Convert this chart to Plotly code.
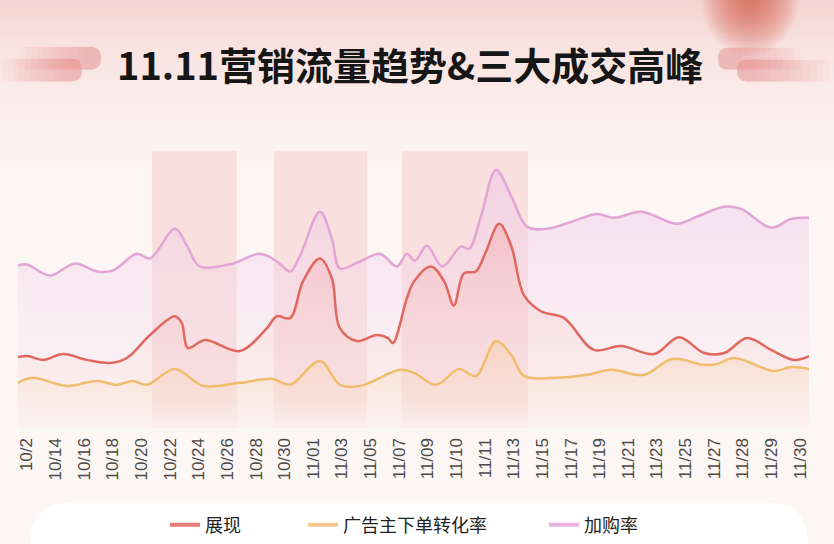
import plotly.graph_objects as go

W, H = 834, 544

tick_labels = ["10/2", "10/14", "10/16", "10/18", "10/20", "10/22", "10/24", "10/26",
               "10/28", "10/30", "11/01", "11/03", "11/05", "11/07", "11/09", "11/10",
               "11/11", "11/13", "11/15", "11/17", "11/19", "11/21", "11/23", "11/25",
               "11/27", "11/28", "11/29", "11/30"]

# positions are in tick-index units (0 = "10/2")
cart_x = [-0.31, 0.00, 0.80, 1.68, 2.45, 3.00, 3.84, 4.30, 5.17, 5.59, 6.04, 7.20, 8.14,
          8.73, 9.19, 9.54, 10.23, 10.65, 10.93, 11.63, 12.33, 12.92, 13.27, 13.55, 13.97,
          14.50, 15.16, 15.44, 15.86, 16.38, 16.91, 17.46, 18.16, 19.11, 19.91, 20.50,
          21.45, 22.70, 23.40, 24.35, 24.94, 25.99, 26.69, 27.31]
cart_y = [58.6, 59.0, 55.0, 59.4, 56.5, 56.8, 62.9, 61.2, 71.9, 65.8, 58.3, 59.4, 62.9,
          60.1, 56.5, 62.2, 78.1, 68.3, 57.6, 60.1, 62.9, 58.3, 62.9, 60.4, 65.8,
          58.3, 65.5, 64.7, 76.6, 93.2, 83.8, 72.7, 71.9, 74.8, 77.3, 75.9,
          78.1, 73.7, 76.3, 79.9, 79.1, 72.3, 75.5, 75.9]

imp_x = [-0.31, 0.03, 0.56, 1.26, 2.10, 2.90, 3.49, 4.30, 5.17, 5.41, 5.62, 6.22, 7.44,
         8.38, 8.73, 9.19, 9.64, 10.23, 10.65, 10.93, 11.53, 12.22, 12.61, 12.78, 13.27,
         13.52, 14.11, 14.57, 14.91, 15.26, 15.68, 16.03, 16.49, 16.91, 17.36, 17.95,
         18.76, 19.80, 20.75, 21.90, 22.77, 23.65, 24.35, 25.15, 25.99, 26.79, 27.31]
imp_y = [25.5, 25.9, 24.5, 26.6, 24.5, 23.4, 25.2, 33.5, 40.3, 37.8, 28.8, 31.7, 27.7,
         36.0, 40.3, 39.6, 52.9, 61.2, 54.0, 36.0, 31.3, 33.5, 32.4, 30.6, 46.8,
         52.9, 58.3, 52.9, 44.2, 55.8, 56.5, 63.7, 73.7, 65.8, 47.8, 42.1,
         39.6, 28.1, 29.5, 26.6, 32.7, 27.0, 27.0, 32.4, 28.1, 24.5, 25.9]

conv_x = [-0.31, 0.21, 1.40, 2.45, 3.14, 3.70, 4.19, 5.17, 6.15, 7.44, 8.59, 9.19, 10.23,
          10.93, 11.63, 13.03, 13.52, 14.29, 15.09, 15.68, 16.38, 16.91, 17.36, 18.41,
          19.56, 20.40, 21.55, 22.53, 23.65, 24.10, 24.69, 26.09, 26.69, 27.31]
conv_y = [16.2, 18.0, 15.1, 16.9, 15.5, 16.9, 15.5, 21.2, 15.1, 16.2, 17.6, 15.5, 24.1,
          15.5, 15.1, 20.9, 19.8, 15.5, 21.2, 18.7, 31.3, 26.3, 18.7, 18.0,
          19.1, 20.9, 19.1, 24.8, 22.7, 23.0, 25.2, 20.5, 21.9, 21.2]

band_start = [4.37, 8.63, 13.10]
band_end = [7.33, 11.88, 17.50]

series_names = ["展现", "广告主下单转化率", "加购率"]
series_colors = ["#e0685e", "#f0bd6e", "#e3a4d6"]
legend_colors = ["#e27c74", "#f3c790", "#e8b3df"]


def px(x):
    return x / W


def py(y):
    return 1 - y / H


def hexmix(c1, c2, t):
    a = [int(c1[i:i + 2], 16) for i in (1, 3, 5)]
    b = [int(c2[i:i + 2], 16) for i in (1, 3, 5)]
    return "rgb(%d,%d,%d)" % tuple(round(a[k] + (b[k] - a[k]) * t) for k in range(3))


def pill(x0, x1, y0, y1, round_left, round_right):
    r = (y1 - y0) / 2
    ym = (y0 + y1) / 2
    p = "M %f,%f " % (px(x0 + r), py(y0))
    p += "L %f,%f " % (px(x1 - r), py(y0))
    if round_right:
        p += "Q %f,%f %f,%f " % (px(x1), py(y0), px(x1), py(ym))
        p += "Q %f,%f %f,%f " % (px(x1), py(y1), px(x1 - r), py(y1))
    else:
        p += "L %f,%f L %f,%f " % (px(x1), py(y0), px(x1), py(y1))
        p += "L %f,%f " % (px(x1 - r), py(y1))
    p += "L %f,%f " % (px(x0 + r), py(y1))
    if round_left:
        p += "Q %f,%f %f,%f " % (px(x0), py(y1), px(x0), py(ym))
        p += "Q %f,%f %f,%f " % (px(x0), py(y0), px(x0 + r), py(y0))
    else:
        p += "L %f,%f L %f,%f " % (px(x0), py(y1), px(x0), py(y0))
    return p + "Z"


shapes = []

# page background gradient
stops = [(0, "#f5d4d2"), (45, "#f8e2e0"), (110, "#fbeeec"), (170, "#fcf5f3"), (544, "#fcf6f4")]
n = 40
for i in range(n):
    y0 = 170 * i / n
    y1 = 170 * (i + 1) / n + 0.5
    ym = (y0 + y1) / 2
    for j in range(len(stops) - 1):
        if stops[j][0] <= ym <= stops[j + 1][0]:
            t = (ym - stops[j][0]) / (stops[j + 1][0] - stops[j][0])
            col = hexmix(stops[j][1], stops[j + 1][1], t)
    shapes.append(dict(type="rect", xref="paper", yref="paper", x0=0, x1=1,
                       y0=py(y1), y1=py(y0), fillcolor=col, line_width=0, layer="below"))

# soft red glow at top right
for k in range(24):
    r = 58 - 2.2 * k
    shapes.append(dict(type="circle", xref="paper", yref="paper",
                       x0=px(750 - r * 0.85), x1=px(750 + r * 0.85), y0=py(-2 + r), y1=py(-2 - r),
                       fillcolor="#df5a50", opacity=0.05, line_width=0, layer="below"))

# decorative pills beside the title
steps = 12
for (x0, x1, y0, y1, rl, rr) in [(20, 101, 47, 70, False, True), (2, 82, 59, 82, False, True)]:
    for k in range(steps):
        shapes.append(dict(type="path", xref="paper", yref="paper",
                           path=pill(x0 + (x1 - x0 - 12) * k / steps, x1, y0, y1, rl, rr),
                           fillcolor="#ee9a9a", opacity=0.055, line_width=0, layer="below"))
for (x0, x1, y0, y1, rl, rr) in [(718, 800, 48, 70, True, False), (737, 830, 60, 82, True, False)]:
    for k in range(steps):
        shapes.append(dict(type="path", xref="paper", yref="paper",
                           path=pill(x0, x1 - (x1 - x0 - 12) * k / steps, y0, y1, rl, rr),
                           fillcolor="#ee9a9a", opacity=0.055, line_width=0, layer="below"))

# legend card
shapes.append(dict(type="path", xref="paper", yref="paper", layer="below", line_width=0,
                   fillcolor="#ffffff", path=pill(30, 808, 505, 590, True, True)))

# three peak bands, fading out near the bottom
for s, e in zip(band_start, band_end):
    shapes.append(dict(type="rect", xref="x", yref="paper", x0=s, x1=e,
                       y0=py(400), y1=py(152), fillcolor="#f3b4b2", opacity=0.33,
                       line_width=0, layer="below"))
    for k in range(6):
        shapes.append(dict(type="rect", xref="x", yref="paper", x0=s, x1=e,
                           y0=py(400 + 5 * (k + 1)), y1=py(400 + 5 * k), fillcolor="#f3b4b2",
                           opacity=0.33 * (1 - (k + 0.5) / 7), line_width=0, layer="below"))

fig = go.Figure()

fig.add_trace(go.Scatter(
    x=cart_x, y=cart_y, mode="lines", line=dict(color=series_colors[2], width=2.5, shape="spline"),
    fill="tozeroy",
    fillgradient=dict(type="vertical", start=0, stop=95,
                      colorscale=[[0, "rgba(248,232,244,0.15)"], [1, "rgba(238,196,230,0.55)"]]),
    showlegend=False, hoverinfo="skip"))
fig.add_trace(go.Scatter(
    x=imp_x, y=imp_y, mode="lines", line=dict(color=series_colors[0], width=2.5, shape="spline"),
    fill="tozeroy",
    fillgradient=dict(type="vertical", start=0, stop=75,
                      colorscale=[[0, "rgba(250,215,210,0.05)"], [1, "rgba(240,150,150,0.35)"]]),
    showlegend=False, hoverinfo="skip"))
fig.add_trace(go.Scatter(
    x=conv_x, y=conv_y, mode="lines", line=dict(color=series_colors[1], width=2.5, shape="spline"),
    fill="tozeroy",
    fillgradient=dict(type="vertical", start=0, stop=32,
                      colorscale=[[0, "rgba(252,232,215,0.1)"], [1, "rgba(246,205,165,0.5)"]]),
    showlegend=False, hoverinfo="skip"))

legend_ids = ["legend", "legend2", "legend3"]
for name, col, lid in zip(series_names, legend_colors, legend_ids):
    fig.add_trace(go.Scatter(x=[None], y=[None], mode="lines", name=name,
                             line=dict(color=col, width=4), legend=lid))

legend_font = dict(family="Noto Sans CJK SC", size=18, color="#222222")
legend_x = [165, 303, 544]
legend_layout = {}
for lid, lx in zip(legend_ids, legend_x):
    legend_layout[lid] = dict(x=px(lx), y=py(528), xanchor="left", yanchor="middle",
                              bgcolor="rgba(0,0,0,0)", font=legend_font,
                              orientation="h", borderwidth=0)

fig.update_layout(
    width=W, height=H,
    margin=dict(l=0, r=0, t=0, b=0),
    paper_bgcolor="#fcf6f4",
    plot_bgcolor="rgba(0,0,0,0)",
    shapes=shapes,
    xaxis=dict(domain=[px(18), px(809)], range=[-0.31, 27.31],
               tickmode="array", tickvals=list(range(len(tick_labels))), ticktext=tick_labels,
               tickangle=-90, ticks="", showgrid=False, zeroline=False, showline=False,
               tickfont=dict(family="Liberation Sans", size=17, color="#4a4a4a"),
               ticklabelstandoff=6, automargin=False),
    yaxis=dict(domain=[py(430), py(152)], range=[0, 100], visible=False,
               showgrid=False, zeroline=False),
    annotations=[dict(text="<b>11.11营销流量趋势&三大成交高峰</b>", x=px(410), y=py(64),
                      xref="paper", yref="paper", showarrow=False, xanchor="center",
                      yanchor="middle",
                      font=dict(family="Noto Sans CJK SC", size=38, color="#161616"))],
    **legend_layout,
)

fig.write_html("out.html", config={"displayModeBar": False},
               post_script="document.body.style.margin='0px';")
